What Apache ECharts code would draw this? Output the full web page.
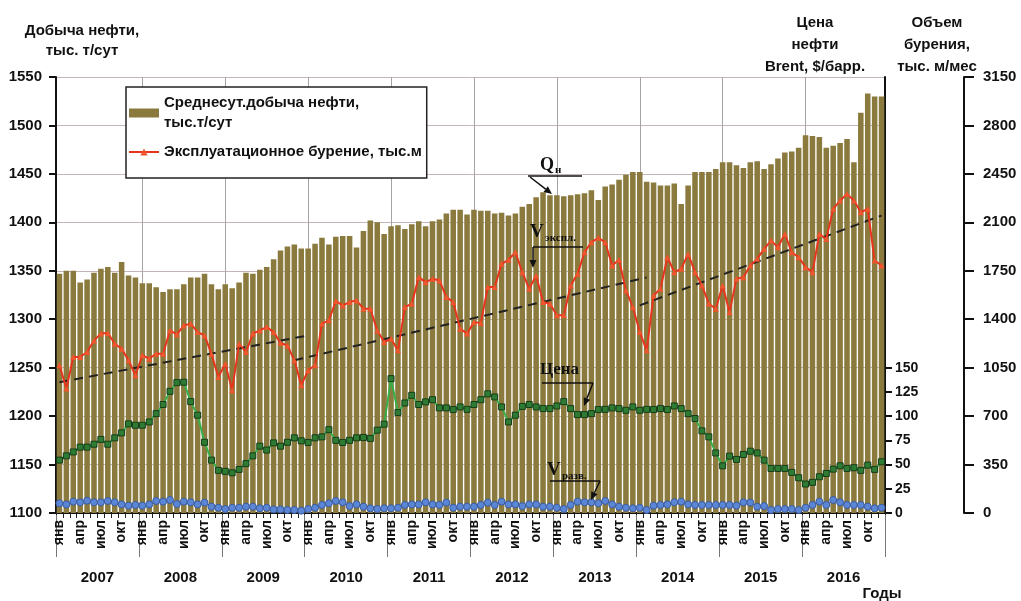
<!DOCTYPE html>
<html><head><meta charset="utf-8">
<script src="https://cdn.jsdelivr.net/npm/echarts@6/dist/echarts.min.js"></script>
<style>html,body{margin:0;padding:0;background:#fff}#c{width:1021px;height:601px}</style>
</head><body><div id="c"></div>
<script>
// ---------- DATA ----------
const years = ['2007','2008','2009','2010','2011','2012','2013','2014','2015','2016'];
const monthNames = ['янв','фев','мар','апр','май','июн','июл','авг','сен','окт','ноя','дек'];

// Среднесуточная добыча нефти, тыс. т/сут
const production = [
  1347,1350,1350,1338,1341,1348,1352,1354,1348,1359,1345,1343,
  1337,1337,1333,1328,1331,1331,1336,1343,1343,1347,1336,1331,
  1336,1332,1338,1348,1347,1351,1354,1362,1371,1375,1377,1373,
  1373,1378,1384,1377,1385,1386,1386,1374,1391,1402,1400,1388,
  1396,1397,1393,1398,1401,1396,1401,1403,1409,1413,1413,1408,
  1413,1412,1412,1409,1410,1407,1409,1416,1419,1426,1431,1428,
  1428,1427,1428,1429,1430,1433,1423,1437,1439,1444,1449,1452,
  1452,1442,1441,1438,1438,1440,1419,1438,1452,1452,1452,1455,
  1462,1462,1459,1456,1462,1463,1455,1460,1466,1472,1473,1477,
  1490,1489,1488,1477,1479,1482,1486,1462,1513,1533,1530,1530
];
// Эксплуатационное бурение, тыс. м/мес
const drilling = [
  1067,899,1127,1127,1163,1247,1296,1300,1223,1187,1103,995,
  1139,1115,1151,1151,1319,1291,1355,1368,1307,1283,1151,983,
  1079,887,1223,1163,1296,1319,1343,1307,1228,1211,1103,923,
  1031,1067,1368,1392,1531,1500,1524,1536,1476,1476,1319,1235,
  1259,1175,1488,1512,1704,1668,1692,1680,1560,1524,1332,1296,
  1379,1372,1632,1632,1800,1829,1884,1740,1620,1716,1524,1512,
  1428,1428,1644,1728,1884,1956,1988,1956,1788,1830,1608,1488,
  1307,1175,1572,1620,1848,1740,1764,1872,1740,1644,1512,1476,
  1644,1451,1692,1704,1788,1836,1908,1968,1920,2016,1884,1848,
  1776,1740,2016,1980,2197,2257,2305,2257,2173,2197,1824,1788
];
// Разведочное бурение, тыс. м/мес
const exploration = [
  70,62,82,77,89,77,77,87,77,62,53,58,
  53,62,87,82,94,65,82,77,62,75,46,38,
  29,38,38,46,46,34,38,26,26,22,22,17,
  29,38,58,70,87,77,50,62,46,34,29,34,
  34,38,58,62,62,77,62,58,75,38,46,46,
  46,58,75,58,82,62,62,50,62,62,46,46,
  38,29,58,82,77,77,70,87,62,46,38,34,
  38,22,53,58,62,77,82,62,58,58,58,58,
  58,58,53,77,75,46,50,22,29,29,29,22,
  38,58,82,58,94,77,58,58,58,46,34,38
];
// Цена нефти Brent, $/барр.
const brentPrice = [
  54.6,59,63,68,68,71,76,71,77.6,82.7,92,90.6,
  90.6,94,102.6,112,125.6,134.6,135,115,101,73,54.6,44,
  43,41.5,45,51,59,69,65,72.4,69,73,77.6,74.5,
  72.8,77.6,78.6,86,75,72.8,75,77.6,78,77,85.5,91.7,
  138.7,103.7,113.6,121.5,112,114.7,117,108.5,108.5,106.8,109.5,107,
  112,117,123,119.8,109.5,94,101,110,112,109.5,107.8,107.8,
  110.5,115,107.8,101.6,101.6,102.6,106.8,107,108.5,107.8,106,109.5,
  106,107,106.8,107.8,106.8,110.5,107.8,102.6,97.5,84.8,78.6,62,
  48.7,58.7,55.3,60.4,63.8,62,54.6,46,46,46,41.9,36.4,
  29.9,31.6,37.4,40.8,45.3,48.7,46,46.7,44,49.4,45,52.9
];
// Тренды эксплуатационного бурения (начало и конец отрезков)
const trendA = [['2007-1', 945], ['2010-1', 1283]];
const trendB = [['2009-11', 1103], ['2014-2', 1702]];
const trendC = [['2014-1', 1500], ['2016-12', 2149]];

const prodTicks = [1100, 1550, 50];
const volumeTicks = [0, 3150, 350];
const priceTicks = [0, 150, 25];

// ---------- BUILD ----------
const categories = [];
years.forEach(y => monthNames.forEach((m, k) => categories.push(y + '-' + (k + 1))));

const F = '"Liberation Sans", Arial, sans-serif';
const FS = '"Liberation Serif", "Times New Roman", serif';
const barName = 'Среднесут.добыча нефти,\nтыс.т/сут';
const lineName = 'Эксплуатационное бурение, тыс.м';

function arrow(x0, y0, x1, y1) {
  const dx = x1 - x0, dy = y1 - y0, L = Math.hypot(dx, dy), ux = dx / L, uy = dy / L;
  const hx = x1 - ux * 8, hy = y1 - uy * 8;
  return [
    {type: 'line', z: 100, shape: {x1: x0, y1: y0, x2: hx, y2: hy}, style: {stroke: '#111', lineWidth: 1.5}},
    {type: 'polygon', z: 100, shape: {points: [[x1, y1], [hx - uy * 3.5, hy + ux * 3.5], [hx + uy * 3.5, hy - ux * 3.5]]}, style: {fill: '#111'}}
  ];
}
function hline(x0, x1, y) {
  return {type: 'line', z: 100, shape: {x1: x0, y1: y, x2: x1, y2: y}, style: {stroke: '#111', lineWidth: 1.5}};
}
function txt(x, y, t, font, align) {
  return {type: 'text', z: 100, x: x, y: y, style: {text: t, font: font, fill: '#111', textAlign: align || 'left', textVerticalAlign: 'middle'}};
}

const graphics = [].concat(
  [txt(540, 165, 'Q', 'bold 18px ' + FS), txt(555, 170, 'н', 'bold 11px ' + FS), hline(528, 582, 176)],
  arrow(530, 177, 552, 194),
  [txt(530, 232, 'V', 'bold 19px ' + FS), txt(545, 238, 'экспл.', 'bold 11px ' + FS), hline(533, 583, 247)],
  arrow(533, 247, 533, 268),
  [txt(540, 370, 'Цена', 'bold 17px ' + FS), hline(542, 593, 383)],
  arrow(593, 383, 584, 406),
  [txt(547, 470, 'V', 'bold 19px ' + FS), txt(562, 476, 'разв.', 'bold 11px ' + FS), hline(550, 600, 481)],
  arrow(600, 481, 591, 500),
  [txt(882, 594, 'Годы', 'bold 15px ' + F, 'center')]
);

const axisBlack = {show: true, lineStyle: {color: '#111', width: 2}};
const plain = (v) => String(v);
const labelBold = (size) => ({fontFamily: F, fontWeight: 'bold', fontSize: size, color: '#111'});
const trendStyle = {color: '#222', width: 2, type: [9, 6]};

const option = {
  animation: false,
  backgroundColor: '#fff',
  textStyle: {fontFamily: F},
  grid: [
    {left: 56, right: 136, top: 77, height: 436, containLabel: false, outerBoundsMode: 'none'},
    {left: 56, right: 136, top: 367.7, height: 145.3, containLabel: false, outerBoundsMode: 'none'}
  ],
  legend: {
    left: 126, top: 87, orient: 'vertical',
    itemWidth: 30, itemHeight: 9, itemGap: 3,
    padding: [0, 5, 16, 2],
    borderColor: '#222', borderWidth: 1.5, backgroundColor: '#fff',
    textStyle: {fontFamily: F, fontWeight: 'bold', fontSize: 15, color: '#111', lineHeight: 20},
    data: [
      {name: barName, icon: 'rect', textStyle: {padding: [12, 0, 0, 0]}},
      {name: lineName}
    ],
    z: 20
  },
  xAxis: [
    {
      type: 'category', gridIndex: 0, data: categories, position: 'bottom',
      axisLine: axisBlack,
      axisTick: {show: true, interval: 0, length: 5, lineStyle: {color: '#222', width: 1}},
      axisLabel: Object.assign(labelBold(14), {interval: 2, rotate: 90, margin: 7,
        formatter: (v, i) => monthNames[i % 12]}),
      splitLine: {show: true, alignWithLabel: true, interval: (i) => i % 12 === 0 && i > 0,
        lineStyle: {color: '#a9a2a2', width: 1}}
    },
    {
      type: 'category', gridIndex: 0, data: years, position: 'bottom', offset: 44,
      axisLine: {show: false},
      axisTick: {show: true, inside: true, length: 42, interval: 0, lineStyle: {color: '#777', width: 1}},
      axisLabel: Object.assign(labelBold(15), {margin: 13})
    },
    {type: 'category', gridIndex: 1, data: categories, show: false}
  ],
  yAxis: [
    {
      type: 'value', gridIndex: 0, position: 'left',
      min: prodTicks[0], max: prodTicks[1], interval: prodTicks[2],
      axisLine: axisBlack,
      axisTick: {show: true, length: 7, lineStyle: {color: '#111', width: 2}},
      axisLabel: Object.assign(labelBold(15), {margin: 14, formatter: plain}),
      splitLine: {show: true, lineStyle: {color: '#c4b6b6', width: 1}},
      name: 'Добыча нефти,\nтыс. т/сут', nameLocation: 'end', nameGap: 16, nameMoveOverlap: false,
      nameTextStyle: {fontFamily: F, fontWeight: 'bold', fontSize: 15, color: '#111', lineHeight: 20, padding: [0, 0, 0, 52]}
    },
    {
      type: 'value', gridIndex: 0, position: 'right', offset: 79,
      min: volumeTicks[0], max: volumeTicks[1], interval: volumeTicks[2],
      axisLine: axisBlack,
      axisTick: {show: true, length: 10, lineStyle: {color: '#111', width: 2}},
      axisLabel: Object.assign(labelBold(15), {margin: 19, formatter: plain}),
      splitLine: {show: false},
      name: 'Объем\nбурения,\nтыс. м/мес', nameLocation: 'end', nameGap: -1, nameMoveOverlap: false,
      nameTextStyle: {fontFamily: F, fontWeight: 'bold', fontSize: 15, color: '#111', lineHeight: 22, padding: [0, 54, 0, 0]}
    },
    {
      type: 'value', gridIndex: 0, position: 'right',
      min: prodTicks[0], max: prodTicks[1],
      axisLine: axisBlack, axisTick: {show: false}, axisLabel: {show: false}, splitLine: {show: false},
      name: 'Цена\nнефти\nBrent, $/барр.', nameLocation: 'end', nameGap: -1, nameMoveOverlap: false,
      nameTextStyle: {fontFamily: F, fontWeight: 'bold', fontSize: 15, color: '#111', lineHeight: 22, padding: [0, 140, 0, 0]}
    },
    {
      type: 'value', gridIndex: 1, position: 'right',
      min: priceTicks[0], max: priceTicks[1], interval: priceTicks[2],
      axisLine: axisBlack,
      axisTick: {show: true, length: 7, lineStyle: {color: '#111', width: 2}},
      axisLabel: Object.assign(labelBold(14), {margin: 10, formatter: plain}),
      splitLine: {show: false}
    }
  ],
  series: [
    {
      name: barName, type: 'bar', xAxisIndex: 0, yAxisIndex: 0, data: production,
      barCategoryGap: '20%', itemStyle: {color: '#8b7a3d'}, z: 1
    },
    {
      name: lineName, type: 'line', xAxisIndex: 0, yAxisIndex: 1, data: drilling,
      symbol: 'triangle', symbolSize: 6, showSymbol: true, showAllSymbol: true,
      lineStyle: {color: '#e8341c', width: 2}, itemStyle: {color: '#f0552e'}, z: 5
    },
    {
      name: 'Разведочное бурение', type: 'line', xAxisIndex: 0, yAxisIndex: 1, data: exploration,
      symbol: 'circle', symbolSize: 7, showAllSymbol: true,
      lineStyle: {color: '#5a84d2', width: 1.5}, itemStyle: {color: '#5b86d6', borderColor: '#3b5c9e', borderWidth: 1}, z: 5
    },
    {
      name: 'Цена', type: 'line', xAxisIndex: 2, yAxisIndex: 3, data: brentPrice,
      symbol: 'rect', symbolSize: 6, showAllSymbol: true,
      lineStyle: {color: '#36b04a', width: 2}, itemStyle: {color: '#2e7b34', borderColor: '#163d18', borderWidth: 1}, z: 5
    },
    {name: 'trendA', type: 'line', xAxisIndex: 0, yAxisIndex: 1, data: trendA, symbol: 'none', lineStyle: trendStyle, z: 4},
    {name: 'trendB', type: 'line', xAxisIndex: 0, yAxisIndex: 1, data: trendB, symbol: 'none', lineStyle: trendStyle, z: 4},
    {name: 'trendC', type: 'line', xAxisIndex: 0, yAxisIndex: 1, data: trendC, symbol: 'none', lineStyle: trendStyle, z: 4}
  ],
  graphic: graphics
};

const chart = echarts.init(document.getElementById('c'), null, {renderer: 'canvas'});
chart.setOption(option);
</script>
</body></html>
